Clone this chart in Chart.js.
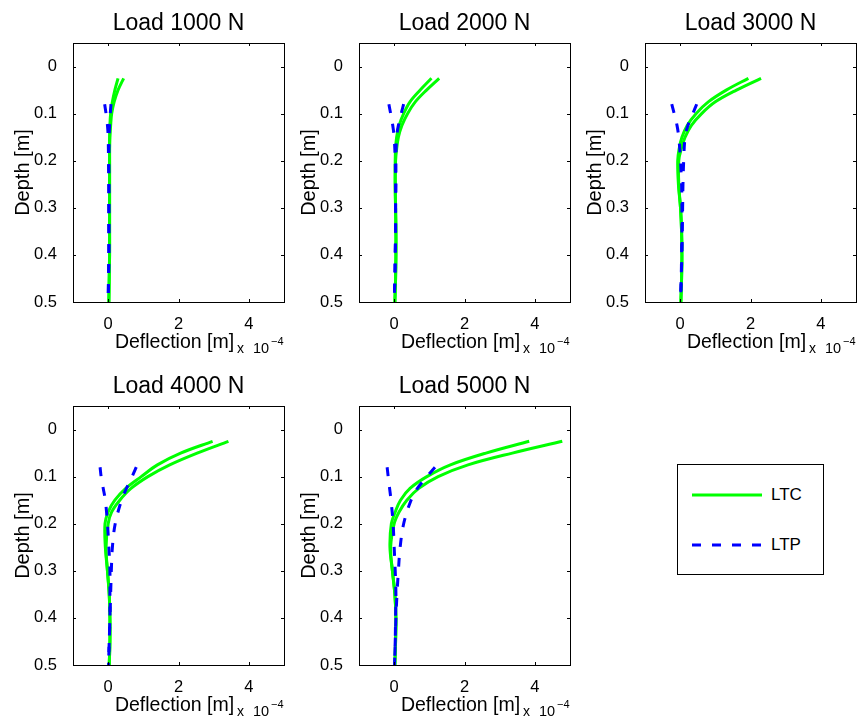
<!DOCTYPE html>
<html>
<head>
<meta charset="utf-8">
<script src="https://cdn.jsdelivr.net/npm/chart.js@4.4.0/dist/chart.umd.min.js"></script>
<style>
  body { margin: 0; background: #fff; }
  #wrap { position: relative; width: 866px; height: 720px; background: #fff; font-family: "Liberation Sans", Arial, sans-serif; }
  .panel { position: absolute; width: 290px; height: 360px; }
  #legend { position: absolute; left: 677px; top: 464px; width: 145px; height: 109px; border: 1px solid #000; background: #fff; }
  #legend svg { position: absolute; left: 0; top: 0; }
  #legend span { position: absolute; left: 93px; font-size: 17px; color: #000; line-height: 20px; }
</style>
</head>
<body>
<div id="wrap">
  <canvas class="panel" id="p1000" width="290" height="360" style="left:0;top:0"></canvas>
  <canvas class="panel" id="p2000" width="290" height="360" style="left:286px;top:0"></canvas>
  <canvas class="panel" id="p3000" width="290" height="360" style="left:572px;top:0"></canvas>
  <canvas class="panel" id="p4000" width="290" height="360" style="left:0;top:363px"></canvas>
  <canvas class="panel" id="p5000" width="290" height="360" style="left:286px;top:363px"></canvas>
  <div id="legend">
    <svg width="145" height="109">
      <line x1="14" y1="30" x2="84" y2="30" stroke="#00ff00" stroke-width="3"/>
      <line x1="14" y1="80" x2="84" y2="80" stroke="#0000ff" stroke-width="3" stroke-dasharray="9 11"/>
    </svg>
    <span style="top:20px">LTC</span>
    <span style="top:70px">LTP</span>
  </div>
</div>
<script>
// deflection values are in units of 1e-4 m
const loads = [1000, 2000, 3000, 4000, 5000];
const depthLTC = [0.025, 0.05, 0.075, 0.1, 0.125, 0.15, 0.175, 0.2, 0.25, 0.3, 0.35, 0.4, 0.45, 0.5];
const depthLTP = [0.08, 0.1, 0.125, 0.15, 0.2, 0.25, 0.3, 0.35, 0.4, 0.45, 0.5];
const yTicks = [0, 0.1, 0.2, 0.3, 0.4, 0.5];
const xTicks = [0, 2, 4];

const ltc1000a = [0.28, 0.19, 0.12, 0.07, 0.05, 0.04, 0.04, 0.04, 0.04, 0.04, 0.04, 0.04, 0.03, 0.02];
const ltc1000b = [0.44, 0.28, 0.17, 0.1, 0.07, 0.05, 0.04, 0.04, 0.04, 0.04, 0.04, 0.04, 0.03, 0.02];
const ltp1000a = [-0.1, -0.06, -0.02, 0, 0.01, 0.02, 0.02, 0.02, 0.02, 0.01, 0];
const ltp1000b = [0.08, 0.06, 0.04, 0.03, 0.02, 0.02, 0.02, 0.02, 0.02, 0.01, 0];

const ltc2000a = [1.06, 0.74, 0.45, 0.27, 0.14, 0.07, 0.04, 0.03, 0.03, 0.04, 0.05, 0.05, 0.04, 0.02];
const ltc2000b = [1.28, 0.92, 0.6, 0.38, 0.22, 0.12, 0.07, 0.04, 0.03, 0.04, 0.05, 0.05, 0.04, 0.02];
const ltp2000a = [-0.15, -0.1, -0.04, 0, 0.03, 0.04, 0.04, 0.04, 0.03, 0.02, 0];
const ltp2000b = [0.27, 0.2, 0.12, 0.07, 0.05, 0.05, 0.04, 0.04, 0.03, 0.02, 0];

const ltc3000a = [1.94, 1.31, 0.8, 0.45, 0.2, 0.05, -0.03, -0.07, -0.05, 0.01, 0.04, 0.05, 0.04, 0.02];
const ltc3000b = [2.3, 1.6, 1.0, 0.61, 0.32, 0.14, 0.03, -0.04, -0.04, 0.01, 0.04, 0.05, 0.04, 0.02];
const ltp3000a = [-0.24, -0.17, -0.09, -0.04, 0.01, 0.04, 0.05, 0.05, 0.04, 0.03, 0.01];
const ltp3000b = [0.47, 0.36, 0.22, 0.14, 0.1, 0.08, 0.07, 0.06, 0.05, 0.03, 0.01];

const ltc4000a = [2.97, 2.06, 1.4, 0.94, 0.5, 0.19, 0.0, -0.09, -0.08, -0.02, 0.03, 0.05, 0.05, 0.03];
const ltc4000b = [3.42, 2.53, 1.75, 1.13, 0.65, 0.33, 0.1, 0.0, -0.06, -0.02, 0.03, 0.05, 0.05, 0.03];
const ltp4000a = [-0.23, -0.2, -0.14, -0.08, -0.02, 0.02, 0.05, 0.05, 0.05, 0.03, 0.01];
const ltp4000b = [0.8, 0.68, 0.52, 0.38, 0.2, 0.12, 0.09, 0.07, 0.05, 0.03, 0.01];

const ltc5000a = [3.84, 2.61, 1.6, 0.93, 0.45, 0.18, 0.03, -0.08, -0.12, -0.05, 0.02, 0.05, 0.04, 0.02];
const ltc5000b = [4.78, 3.36, 2.1, 1.25, 0.7, 0.36, 0.14, 0.0, -0.1, -0.05, 0.02, 0.05, 0.04, 0.02];
const ltp5000a = [-0.2, -0.17, -0.13, -0.09, -0.03, 0.0, 0.03, 0.05, 0.04, 0.03, 0.01];
const ltp5000b = [1.16, 0.93, 0.66, 0.48, 0.27, 0.17, 0.12, 0.08, 0.05, 0.03, 0.01];

const seriesByLoad = {
    1000: [ltc1000a, ltc1000b, ltp1000a, ltp1000b],
    2000: [ltc2000a, ltc2000b, ltp2000a, ltp2000b],
    3000: [ltc3000a, ltc3000b, ltp3000a, ltp3000b],
    4000: [ltc4000a, ltc4000b, ltp4000a, ltp4000b],
    5000: [ltc5000a, ltc5000b, ltp5000a, ltp5000b]
};

const FONT = '"Liberation Sans", Arial, sans-serif';

function pts(xs, ys) {
    return xs.map((x, i) => ({ x: x, y: ys[i] }));
}

function ltcSet(xs) {
    return { data: pts(xs, depthLTC), borderColor: '#00ff00', borderWidth: 3, showLine: true, pointRadius: 0, tension: 0.35, order: 1 };
}
function ltpSet(xs) {
    return { data: pts(xs, depthLTP), borderColor: '#0000ff', borderWidth: 3, borderDash: [9, 11], showLine: true, pointRadius: 0, tension: 0.35, order: 0 };
}

// matlab-style box, inward ticks, title and labels
const decor = {
    id: 'decor',
    afterDatasetsDraw(chart, args, opts) {
        const ctx = chart.ctx;
        const a = chart.chartArea;
        const xs = chart.scales.x, ys = chart.scales.y;
        ctx.save();
        ctx.strokeStyle = '#000';
        ctx.lineWidth = 1;
        ctx.strokeRect(Math.round(a.left) + 0.5, Math.round(a.top) + 0.5, Math.round(a.right - a.left), Math.round(a.bottom - a.top));
        ctx.beginPath();
        xTicks.forEach(v => {
            const px = Math.round(xs.getPixelForValue(v)) + 0.5;
            ctx.moveTo(px, a.bottom); ctx.lineTo(px, a.bottom - 3);
            ctx.moveTo(px, a.top); ctx.lineTo(px, a.top + 3);
        });
        yTicks.forEach(v => {
            const py = Math.round(ys.getPixelForValue(v)) + 0.5;
            ctx.moveTo(a.left, py); ctx.lineTo(a.left + 3, py);
            ctx.moveTo(a.right, py); ctx.lineTo(a.right - 3, py);
        });
        ctx.stroke();

        const cx = (a.left + a.right) / 2;
        ctx.fillStyle = '#000';
        ctx.textBaseline = 'alphabetic';
        ctx.textAlign = 'center';
        ctx.font = '23px ' + FONT;
        ctx.fillText(opts.title, cx, 29.5);
        ctx.font = '19.5px ' + FONT;
        ctx.fillText('Deflection [m]', cx - 4, 348);
        ctx.save();
        ctx.translate(29, (a.top + a.bottom) / 2);
        ctx.rotate(-Math.PI / 2);
        ctx.font = '20px ' + FONT;
        ctx.fillText('Depth [m]', 0, 0);
        ctx.restore();
        ctx.textAlign = 'left';
        ctx.font = '14px ' + FONT;
        ctx.fillText('x', 237, 353);
        ctx.font = '14.5px ' + FONT;
        ctx.fillText('10', 253, 353);
        ctx.font = '11px ' + FONT;
        ctx.fillText('\u22124', 271, 345);
        ctx.restore();
    }
};

loads.forEach(load => {
    const s = seriesByLoad[load];
    new Chart(document.getElementById('p' + load), {
        type: 'scatter',
        data: {
            datasets: [ltcSet(s[0]), ltcSet(s[1]), ltpSet(s[2]), ltpSet(s[3])]
        },
        options: {
            responsive: false,
            animation: false,
            layout: { padding: { top: 43, right: 6, left: 0, bottom: 0 } },
            plugins: {
                legend: { display: false },
                tooltip: { enabled: false },
                decor: { title: 'Load ' + load + ' N' }
            },
            scales: {
                x: {
                    type: 'linear',
                    min: -1, max: 5,
                    afterBuildTicks: sc => { sc.ticks = xTicks.map(v => ({ value: v })); },
                    afterFit: sc => { sc.height = 58; },
                    grid: { display: false },
                    border: { display: false },
                    ticks: { color: '#000', font: { family: FONT, size: 16.5 }, padding: 5, callback: v => String(v) }
                },
                y: {
                    type: 'linear',
                    reverse: true,
                    min: -0.05, max: 0.5,
                    afterBuildTicks: sc => { sc.ticks = yTicks.map(v => ({ value: v })); },
                    afterFit: sc => { sc.width = 73; },
                    grid: { display: false },
                    border: { display: false },
                    ticks: { color: '#000', font: { family: FONT, size: 16.5 }, padding: 8, callback: v => String(Math.round(v * 10) / 10) }
                }
            }
        },
        plugins: [decor]
    });
});
</script>
</body>
</html>
